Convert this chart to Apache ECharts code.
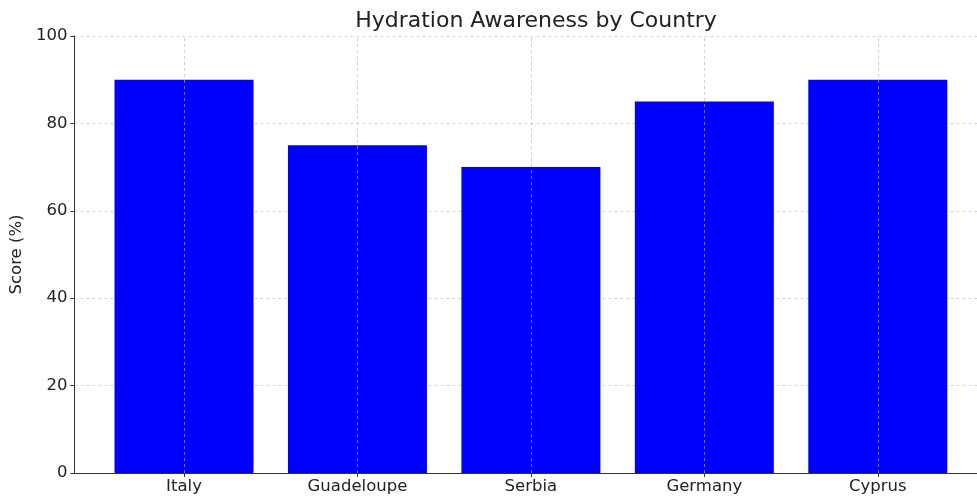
<!DOCTYPE html>
<html>
<head>
<meta charset="utf-8">
<script src="https://cdn.jsdelivr.net/npm/echarts@6/dist/echarts.min.js"></script>
<style>html,body{margin:0;padding:0;background:#fff;}#c{width:977px;height:500px;}</style>
</head>
<body>
<div id="c"></div>
<script>
const categories = ["Italy", "Guadeloupe", "Serbia", "Germany", "Cyprus"];
const scores = [90, 75, 70, 85, 90];
const yTicks = [0, 20, 40, 60, 80, 100];

const positions = categories.map((_, i) => i);
const chart = echarts.init(document.getElementById('c'), null, {renderer: 'canvas'});
const font = 'DejaVu Sans';
const grid = '#c8c8c8';
chart.setOption({
  animation: false,
  backgroundColor: '#ffffff',
  title: {
    text: 'Hydration Awareness by Country',
    left: 531, top: 5, textAlign: 'center',
    textStyle: {fontFamily: font, fontSize: 22, fontWeight: 'normal', color: '#222'}
  },
  grid: {left: 73, top: 36, right: 0, height: 437, containLabel: false},
  xAxis: {
    type: 'value', min: -0.632, max: 4.572,
    axisLine: {show: true, onZero: false, lineStyle: {color: '#333', width: 1}},
    axisTick: {show: true, customValues: positions, length: 4, lineStyle: {color: '#333'}},
    axisLabel: {
      customValues: positions,
      formatter: v => categories[Math.round(v)],
      fontFamily: font, fontSize: 16.5, color: '#222', margin: 5
    },
    splitLine: {show: false}
  },
  yAxis: {
    type: 'value', min: yTicks[0], max: yTicks[yTicks.length - 1], interval: 20,
    name: 'Score (%)', nameLocation: 'middle', nameGap: 43, nameRotate: 90,
    nameTextStyle: {fontFamily: font, fontSize: 16.5, color: '#222'},
    axisLine: {show: true, onZero: false, lineStyle: {color: '#333', width: 1}},
    axisTick: {show: true, length: 4, lineStyle: {color: '#333'}},
    axisLabel: {fontFamily: font, fontSize: 16.5, color: '#222', margin: 7},
    splitLine: {show: true, lineStyle: {color: grid, type: [3, 3], width: 0.8}}
  },
  series: [{
    type: 'bar',
    data: positions.map((p, i) => [p, scores[i]]),
    barWidth: 139,
    itemStyle: {color: '#0000ff'},
    markLine: {
      silent: true, symbol: 'none', label: {show: false},
      lineStyle: {color: '#b0b0d0', type: [3, 3], width: 0.8, opacity: 0.8},
      data: positions.map(p => ({xAxis: p}))
    },
    z: 2
  }]
});
</script>
</body>
</html>
